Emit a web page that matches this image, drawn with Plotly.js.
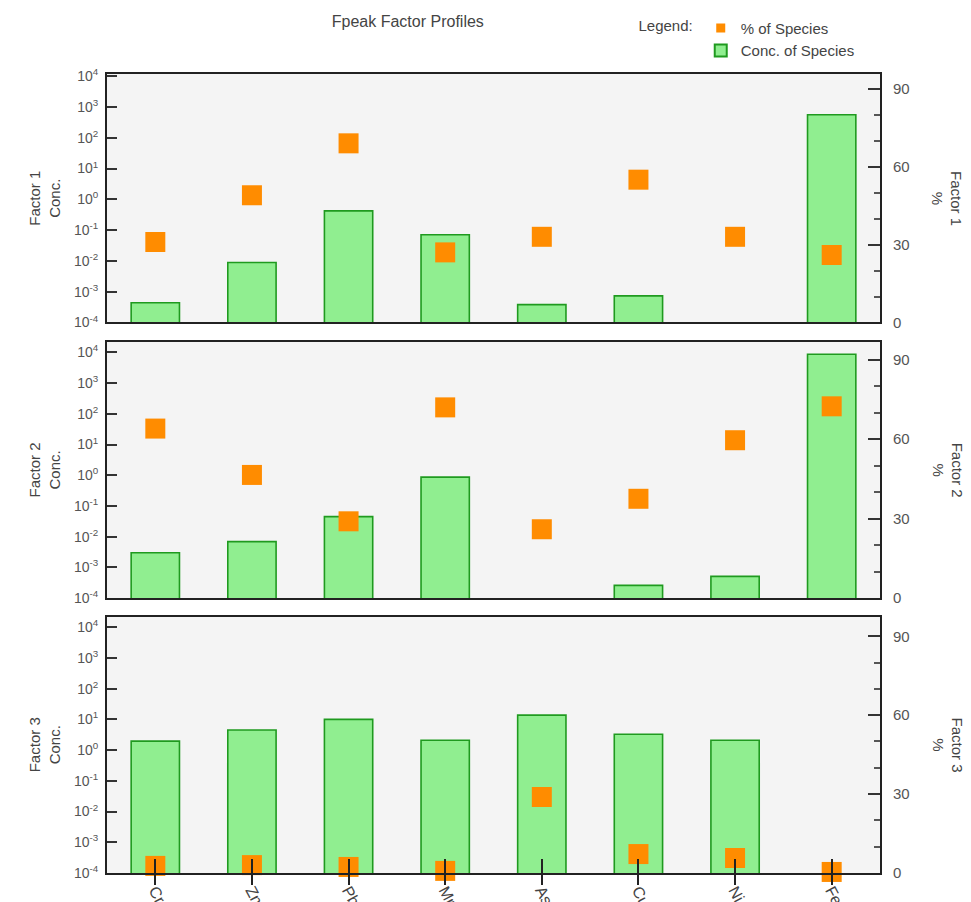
<!DOCTYPE html>
<html>
<head>
<meta charset="utf-8">
<script src="https://cdn.plot.ly/plotly-3.0.1.min.js"></script>
<style>html,body{margin:0;padding:0;background:#fff;}#chart{width:971px;height:902px;}</style>
</head>
<body>
<div id="chart"></div>
<script>
const species = ['Cr','Zn','Pb','Mn','As','Cu','Ni','Fe'];
const factorNames = ['Factor 1','Factor 2','Factor 3'];
const conc1 = [4.4e-4, 8.9e-3, 0.42, 0.071, 3.8e-4, 7.3e-4, null, 560];
const conc2 = [3.0e-3, 6.9e-3, 0.045, 0.87, null, 2.6e-4, 5.1e-4, 8700];
const conc3 = [1.96, 4.5, 10, 2.1, 13.8, 3.3, 2.1, null];
const pct1 = [31, 49, 69, 27, 33, 55, 33, 26];
const pct2 = [64, 46.5, 29, 72, 26, 37.5, 59.6, 72.4];
const pct3 = [2.7, 3.0, 2.3, 0.8, 28.9, 7.2, 5.7, 0.4];
const logTickVals = [1e-4, 1e-3, 1e-2, 1e-1, 1, 10, 100, 1000, 10000];
const logTickText = ['10<sup>-4</sup>','10<sup>-3</sup>','10<sup>-2</sup>','10<sup>-1</sup>','10<sup>0</sup>','10<sup>1</sup>','10<sup>2</sup>','10<sup>3</sup>','10<sup>4</sup>'];
const pctTickVals = [0, 30, 60, 90];
const concs = [conc1, conc2, conc3];
const pcts = [pct1, pct2, pct3];

const FONT = 'Liberation Sans Narrow, Liberation Sans, Arial, sans-serif';
const GRAY = '#555';
const domains = [[0.689, 1.0], [0.344, 0.665], [0.0, 0.321]];
const logTop = [4.07, 4.35, 4.35];
const pctTop = [95.7, 96.8, 97.5];

const data = [];
const layout = {
  width: 971, height: 902,
  margin: {l: 107, r: 91, t: 70, b: 29},
  paper_bgcolor: '#fff',
  plot_bgcolor: '#f4f4f4',
  font: {family: FONT, color: GRAY, size: 13},
  title: {text: 'Fpeak Factor Profiles', x: 0.42, xanchor: 'center', y: 0.976, yanchor: 'middle',
          font: {family: FONT, size: 16, color: '#444'}},
  showlegend: true,
  legend: {x: 0.685, xanchor: 'left', y: 1.078, yanchor: 'top', bgcolor: 'rgba(0,0,0,0)',
           font: {family: FONT, size: 15, color: '#444'},
           title: {text: 'Legend:', side: 'left', font: {family: FONT, size: 15, color: '#444'}},
           tracegroupgap: 0, itemwidth: 30, traceorder: 'normal'},
  bargap: 0.5,
  annotations: [],
  shapes: []
};

for (let i = 0; i < 3; i++) {
  const n = i + 1;
  const xa = 'x' + (n === 1 ? '' : n);
  const yL = 'y' + (2 * i + 1 === 1 ? '' : 2 * i + 1);
  const yR = 'y' + (2 * i + 2);
  data.push({
    type: 'bar', x: species, y: concs[i], xaxis: xa, yaxis: yL,
    name: 'Conc. of Species', showlegend: false,
    marker: {color: '#90ee90', line: {color: '#1f9a1f', width: 1.6}},
    width: 0.5
  });
  data.push({
    type: 'scatter', mode: 'markers', x: species, y: pcts[i], xaxis: xa, yaxis: yR,
    name: '% of Species', showlegend: false, cliponaxis: false,
    marker: {symbol: 'square', size: 20, color: '#ff8c00'}
  });
  const xkey = 'xaxis' + (n === 1 ? '' : n);
  const ylkey = 'yaxis' + (2 * i + 1 === 1 ? '' : 2 * i + 1);
  const yrkey = 'yaxis' + (2 * i + 2);
  layout[xkey] = {
    type: 'category', categoryarray: species,
    domain: [0, 1], anchor: yL, range: [-0.5, 7.5],
    showline: true, mirror: true, linecolor: '#222', linewidth: 2,
    showgrid: false, zeroline: false,
    ticks: i === 2 ? 'outside' : '', ticklen: 10, tickwidth: 2, tickcolor: '#222',
    showticklabels: i === 2, tickangle: 62, ticklabelstandoff: -10,
    tickfont: {family: FONT, size: 16, color: '#444'}
  };
  layout[ylkey] = {
    domain: domains[i], anchor: xa, type: 'log', range: [-4, logTop[i]],
    tickvals: logTickVals, ticktext: logTickText,
    showline: true, mirror: true, linecolor: '#222', linewidth: 2,
    showgrid: false, zeroline: false,
    ticks: 'inside', ticklen: 10, tickwidth: 2, tickcolor: '#333',
    ticklabelstandoff: 4,
    tickfont: {family: FONT, size: 14, color: GRAY},
    title: {text: factorNames[i] + '<br>Conc.', standoff: 10, font: {family: FONT, size: 15, color: '#444'}}
  };
  layout[yrkey] = {
    overlaying: yL, side: 'right', anchor: xa, range: [0, pctTop[i]],
    tickvals: pctTickVals, showgrid: false, zeroline: false, showline: false,
    ticks: 'inside', ticklen: 12, tickwidth: 2, tickcolor: '#333',
    minor: {dtick: 10, ticks: 'inside', ticklen: 6, tickwidth: 1.5, tickcolor: '#555'},
    ticklabelstandoff: 12,
    tickfont: {family: FONT, size: 15, color: GRAY}
  };
  layout.annotations.push({
    xref: 'paper', yref: 'paper', x: 1.087, y: (domains[i][0] + domains[i][1]) / 2,
    xanchor: 'center', yanchor: 'middle', showarrow: false, textangle: 90,
    text: factorNames[i] + '<br>%', font: {family: FONT, size: 15, color: '#444'}
  });
}

// legend-only entries (placed on the first subplot, no visible data)
data.push({type: 'scatter', mode: 'markers', x: [null], y: [null], name: '% of Species',
  xaxis: 'x', yaxis: 'y2', legendrank: 1,
  marker: {symbol: 'square', size: 9, color: '#ff8c00'}, hoverinfo: 'skip'});
data.push({type: 'bar', x: [null], y: [null], name: 'Conc. of Species',
  xaxis: 'x', yaxis: 'y', legendrank: 2,
  marker: {color: '#90ee90', line: {color: '#1f9a1f', width: 2}}, hoverinfo: 'skip'});

// crossing ticks on bottom panel (inside part)
layout.xaxis7 = {
  type: 'category', categoryarray: species,
  overlaying: 'x3', anchor: 'y5', range: [-0.5, 7.5],
  showgrid: false, zeroline: false, showline: false, showticklabels: false,
  ticks: 'inside', ticklen: 14, tickwidth: 2, tickcolor: '#222',
  layer: 'above traces'
};
data.push({type: 'scatter', x: species, y: concs[2], xaxis: 'x7', yaxis: 'y5',
  mode: 'none', showlegend: false, hoverinfo: 'skip'});

Plotly.newPlot('chart', data, layout, {displayModeBar: false});
</script>
</body>
</html>
